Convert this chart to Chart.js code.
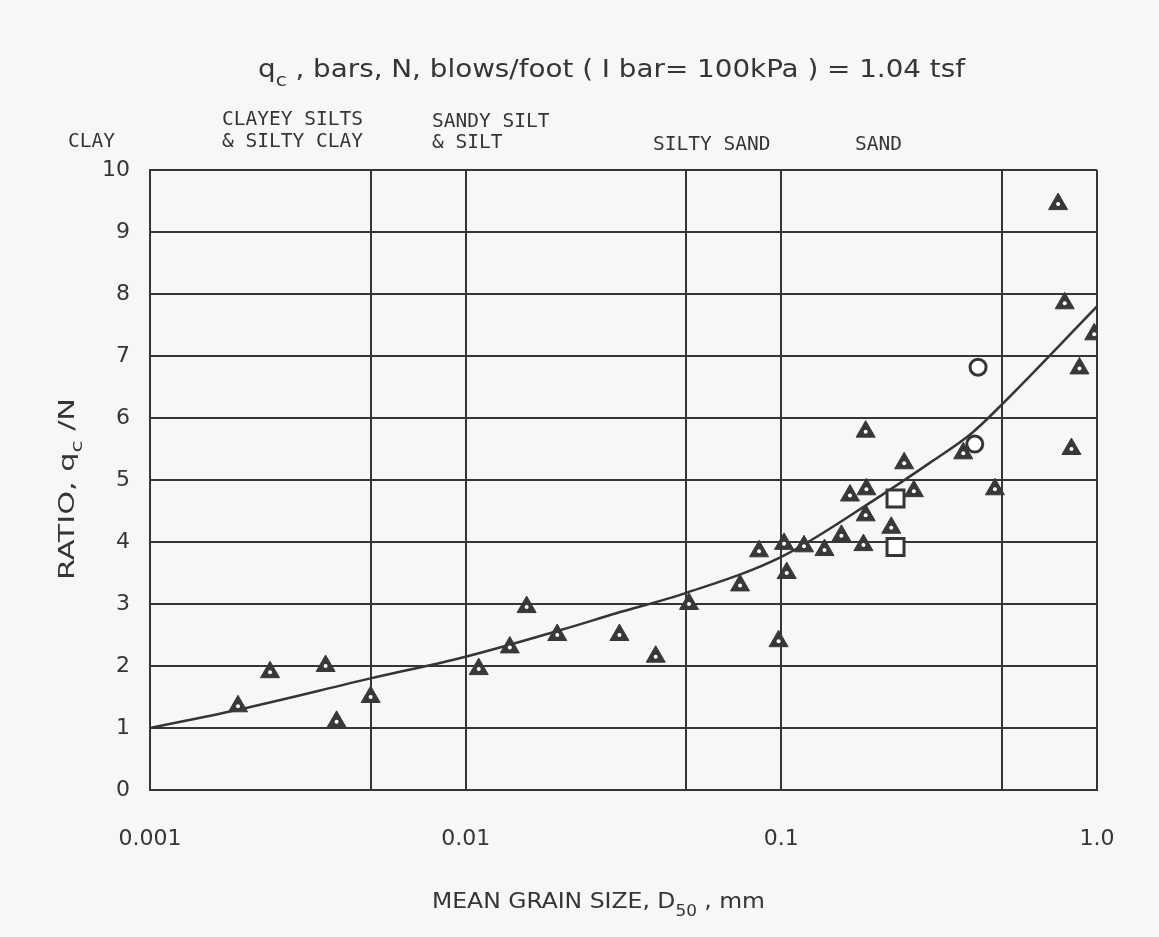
<!DOCTYPE html>
<html>
<head>
<meta charset="utf-8">
<script src="https://cdn.jsdelivr.net/npm/chart.js@4.4.1/dist/chart.umd.min.js"></script>
<style>
  body { margin: 0; background: #f6f7f9; }
</style>
</head>
<body>
<canvas id="grainChart" width="1159" height="937"></canvas>
<script>
// triangles - field data
const triD50 = [0.0019, 0.0024, 0.0036, 0.0039, 0.005, 0.011, 0.0138, 0.0156, 0.0195, 0.0307,
  0.040, 0.051, 0.074, 0.085, 0.098, 0.102, 0.104, 0.118, 0.137, 0.155,
  0.165, 0.185, 0.186, 0.185, 0.182, 0.223, 0.245, 0.263, 0.377, 0.475,
  0.753, 0.79, 0.83, 0.88, 0.98];
const triRatio = [1.35, 1.9, 2.0, 1.1, 1.5, 1.95, 2.3, 2.95, 2.5, 2.5,
  2.15, 3.0, 3.3, 3.85, 2.4, 3.97, 3.5, 3.93, 3.87, 4.1,
  4.75, 5.78, 4.85, 4.43, 3.95, 4.23, 5.27, 4.82, 5.43, 4.85,
  9.45, 7.85, 5.5, 6.8, 7.35];
const sqD50 = [0.23, 0.23];
const sqRatio = [4.7, 3.92];
const circD50 = [0.42, 0.41];
const circRatio = [6.82, 5.58];

// trend curve
const curveD50 = [0.001, 0.002, 0.005, 0.01, 0.02, 0.03, 0.05, 0.1, 0.2, 0.3, 0.4, 0.5, 1.0];
const curveRatio = [1.0, 1.32, 1.8, 2.15, 2.58, 2.85, 3.18, 3.76, 4.7, 5.3, 5.75, 6.22, 7.8];

const xGridValues = [0.001, 0.005, 0.01, 0.05, 0.1, 0.5, 1];
const xLabelValues = [0.001, 0.01, 0.1, 1];
const xLabels = ['0.001', '0.01', '0.1', '1.0'];
const zoneNames = [['CLAY'], ['CLAYEY SILTS', '& SILTY CLAY'], ['SANDY SILT', '& SILT'], ['SILTY SAND'], ['SAND']];

const FONT = "'DejaVu Sans Condensed', 'DejaVu Sans', sans-serif";
const MONO = "'DejaVu Sans Mono', monospace";
const INK = '#353535';

const pts = (xs, ys) => xs.map((x, i) => ({ x: x, y: ys[i] }));

function richWidth(ctx, parts, size) {
  let w = 0;
  parts.forEach(p => {
    ctx.font = (p.sub ? size * 0.72 : size) + 'px ' + FONT;
    w += ctx.measureText(p.t).width;
  });
  return w;
}
// draws text with subscripts, stretched to a given width, starting at x
function drawRich(ctx, parts, x, y, size, width) {
  const k = width / richWidth(ctx, parts, size);
  ctx.save();
  ctx.translate(x, y);
  ctx.scale(k, 1);
  let cx = 0;
  parts.forEach(p => {
    ctx.font = (p.sub ? size * 0.72 : size) + 'px ' + FONT;
    ctx.fillText(p.t, cx, p.sub ? size * 0.35 : 0);
    cx += ctx.measureText(p.t).width;
  });
  ctx.restore();
}

const labelsPlugin = {
  id: 'labels',
  afterDraw(chart) {
    const ctx = chart.ctx;
    ctx.save();
    ctx.fillStyle = INK;
    ctx.textBaseline = 'alphabetic';
    ctx.textAlign = 'left';
    drawRich(ctx, [{ t: 'q' }, { t: 'c', sub: true },
      { t: ' , bars, N, blows/foot ( I bar= 100kPa ) = 1.04 tsf' }], 258, 77, 25, 707);

    // soil type headings
    const zoneX = [68, 222, 432, 653, 855];
    const zoneY = [[147], [125, 147], [127, 148], [150], [150]];
    ctx.font = '19.5px ' + MONO;
    zoneNames.forEach((lines, i) => {
      lines.forEach((line, j) => ctx.fillText(line, zoneX[i], zoneY[i][j]));
    });

    drawRich(ctx, [{ t: 'MEAN GRAIN SIZE, D' }, { t: '50', sub: true }, { t: ' , mm' }], 432, 908, 22, 333);

    ctx.translate(74, 580);
    ctx.rotate(-Math.PI / 2);
    drawRich(ctx, [{ t: 'RATIO, q' }, { t: 'c', sub: true }, { t: ' /N' }], 0, 0, 22, 182);
    ctx.restore();
  }
};

new Chart(document.getElementById('grainChart'), {
  type: 'scatter',
  data: {
    datasets: [
      {
        type: 'line',
        order: 5,
        data: pts(curveD50, curveRatio),
        borderColor: INK,
        borderWidth: 2.5,
        pointRadius: 0,
        cubicInterpolationMode: 'monotone',
        fill: false
      },
      {
        order: 3,
        data: pts(triD50, triRatio),
        pointStyle: 'triangle',
        pointRadius: 11,
        backgroundColor: '#383838',
        borderColor: '#383838',
        borderWidth: 1
      },
      {
        order: 1,
        data: pts(triD50, triRatio),
        pointStyle: 'circle',
        pointRadius: 2,
        backgroundColor: '#ffffff',
        borderWidth: 0
      },
      {
        order: 2,
        data: pts(sqD50, sqRatio),
        pointStyle: 'rect',
        pointRadius: 12,
        backgroundColor: '#ffffff',
        borderColor: INK,
        borderWidth: 3
      },
      {
        order: 2,
        data: pts(circD50, circRatio),
        pointStyle: 'circle',
        pointRadius: 8,
        backgroundColor: '#ffffff',
        borderColor: INK,
        borderWidth: 3
      }
    ]
  },
  options: {
    responsive: false,
    animation: false,
    layout: { padding: { left: 0, right: 62, top: 170, bottom: 0 } },
    plugins: { legend: { display: false }, tooltip: { enabled: false } },
    scales: {
      x: {
        type: 'logarithmic',
        min: 0.001,
        max: 1,
        afterBuildTicks: scale => { scale.ticks = xGridValues.map(v => ({ value: v })); },
        afterFit: scale => { scale.height = 147; },
        grid: { color: INK, lineWidth: 2, drawTicks: false },
        border: { color: INK, width: 2 },
        ticks: {
          autoSkip: false,
          maxRotation: 0,
          padding: 36,
          color: INK,
          font: { family: "'DejaVu Sans', sans-serif", size: 22 },
          callback: v => {
            const i = xLabelValues.indexOf(v);
            return i >= 0 ? xLabels[i] : '';
          }
        }
      },
      y: {
        min: 0,
        max: 10,
        afterFit: scale => { scale.width = 150; },
        grid: { color: INK, lineWidth: 2, drawTicks: false },
        border: { color: INK, width: 2 },
        ticks: {
          stepSize: 1,
          padding: 20,
          color: INK,
          font: { family: "'DejaVu Sans', sans-serif", size: 22 }
        }
      }
    }
  },
  plugins: [labelsPlugin]
});
</script>
</body>
</html>
